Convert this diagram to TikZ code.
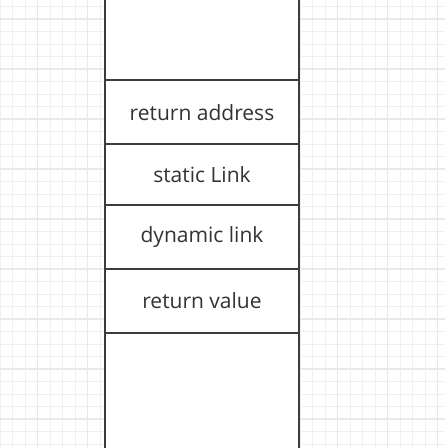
\documentclass[tikz,border=0pt]{standalone}
\usepackage{fontspec}
\setmainfont{Open Sans}
\definecolor{gridthin}{HTML}{F0F0F0}
\definecolor{gridthick}{HTML}{E9E9E9}
\definecolor{edge}{HTML}{3C3C3C}
\definecolor{txt}{HTML}{333333}
\tikzset{
  cell/.style={draw=edge, line width=2pt, fill=white, rectangle, minimum width=194pt, inner sep=0pt, text=txt, font=\fontsize{21}{25}\selectfont},
}
\begin{document}
\begin{tikzpicture}[x=1pt,y=-1pt]
\useasboundingbox (0,0) rectangle (445,448);
\clip (0,0) rectangle (445,448);
\fill[white] (0,0) rectangle (445,448);
% grid
\foreach \i in {0,...,36}{
  \draw[gridthin, line width=1pt] ({12.5*\i},0) -- ({12.5*\i},448);
}
\foreach \i in {0,...,36}{
  \draw[gridthin, line width=1pt] (0,{6.5+12.5*\i}) -- (445,{6.5+12.5*\i});
}
\foreach \i in {0,...,8}{
  \draw[gridthick, line width=1.6pt] ({37.5+50*\i},0) -- ({37.5+50*\i},448);
  \draw[gridthick, line width=1.6pt] (0,{19+50*\i}) -- (445,{19+50*\i});
}
% stack cells
\node[cell, minimum height=100pt] (top) at (202,30) {};
\node[cell, minimum height=64.3pt] (ra) at (202,112.15) {return address};
\node[cell, minimum height=60.4pt] (sl) at (202,174.5) {static Link};
\node[cell, minimum height=64pt] (dl) at (202,236.7) {dynamic link};
\node[cell, minimum height=64pt] (rv) at (202,300.7) {return value};
\node[cell, minimum height=140pt] (bot) at (202,402.7) {};
\end{tikzpicture}
\end{document}
